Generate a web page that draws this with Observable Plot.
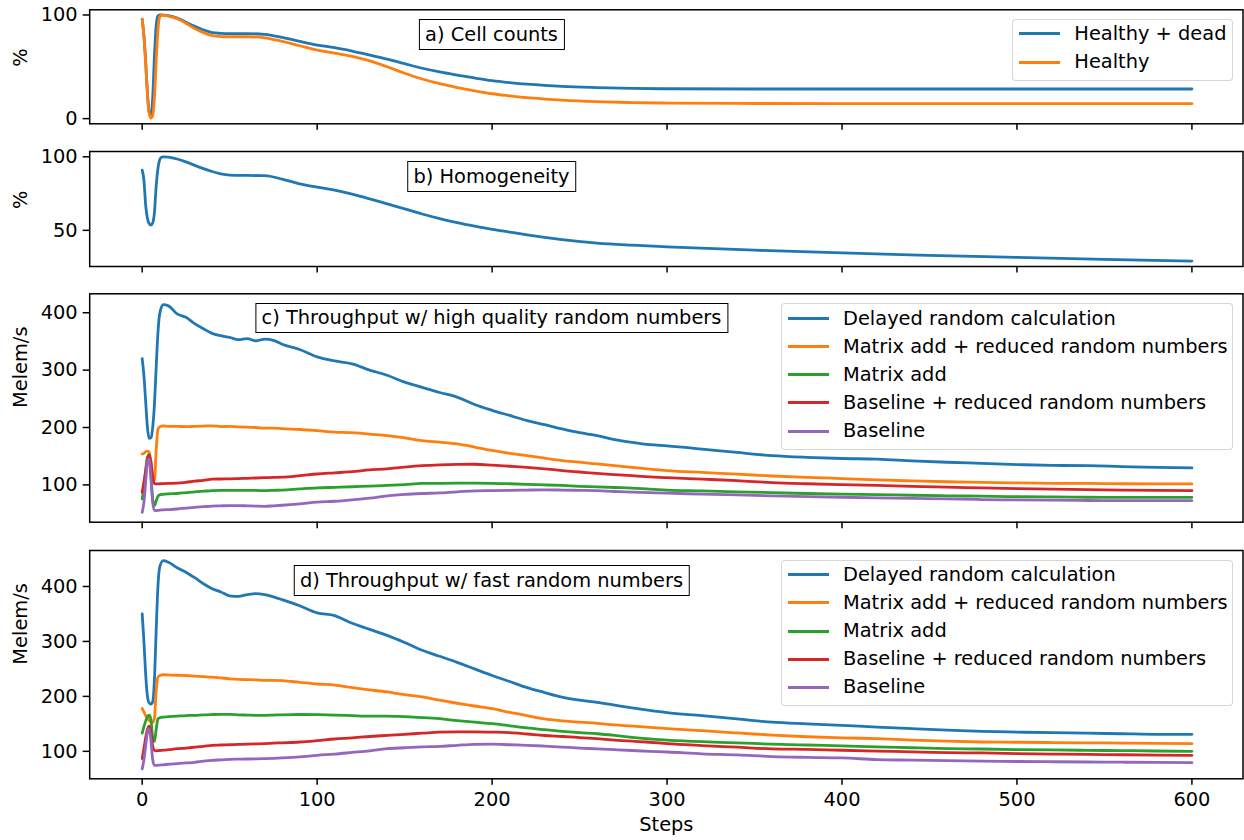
<!DOCTYPE html>
<html>
<head>
<meta charset="utf-8">
<script src="https://cdn.jsdelivr.net/npm/d3@7"></script>
<script src="https://cdn.jsdelivr.net/npm/@observablehq/plot@0.6"></script>
<style>
  body { margin: 0; background: #fff; }
  #fig { position: relative; width: 1244px; height: 840px; font-family: "DejaVu Sans", sans-serif; font-size: 19.4px; color: #000; overflow: hidden; }
  #fig svg { position: absolute; left: 0; }
  .title { position: absolute; border: 1.4px solid #000; background: #fff; padding: 4.8px 5.7px; line-height: 19px; white-space: nowrap; transform: translateX(-50%); }
  .legend { position: absolute; border: 1.4px solid rgba(204,204,204,0.8); border-radius: 4px; background: rgba(255,255,255,0.8); box-sizing: border-box; }
  .legend .sw { position: absolute; left: 5.5px; width: 41px; height: 3px; }
  .legend .lb { position: absolute; left: 61px; line-height: 22px; white-space: nowrap; }
</style>
</head>
<body>
<div id="fig"></div>
<script>
// ---------- data ----------
const xTicks = [0, 100, 200, 300, 400, 500, 600];

// panels a & b: sample steps
const stepsAB = [0,1,2,3,4,5,6,7,8,9,10,11,12,
  15,20,25,30,35,40,45,50,
  60,70,80,90,100,110,120,130,140,150,160,170,180,190,200,210,220,230,240,
  260,280,300,
  350,400,450,500,550,600];

const healthyDead = [96,80,55,25,6,3.5,20,60,90,99,100,100,99.8,
  99.3,97,93,89,85.5,83,82.3,82,
  82,81.3,78.3,74.5,71,68.5,65.2,61.4,57.4,53,48.6,45,42,39.2,36.7,34.8,33.2,32,31.1,
  30,29.2,28.8,
  28.6,28.6,28.6,28.6,28.6,28.6];

const healthy = [96,79,53,23,5,0.5,3,20,55,85,98,100,99.8,
  99,96.5,92,87,83,80,79.2,79,
  79,78,74.5,70.3,66.2,63.3,60,55.7,50,43.8,38.2,33.7,30,26.8,24,22,20.2,18.9,17.8,
  16.3,15.5,15,
  14.6,14.4,14.4,14.4,14.4,14.4];

const homogeneity = [90.9,84,67,58,54.5,53.6,55,62,80,92,98,99.7,100,
  99.8,98.5,96.5,94.2,92,90,88.4,87.6,
  87.3,87.2,84.8,81.6,79.3,77.3,74.6,71.4,68,64.6,61.1,58,55.3,52.9,50.7,48.8,46.9,45.2,43.7,
  41.3,39.9,38.8,
  36.5,34.6,33,31.6,30.3,29.1];

// panels c & d: sample steps
const stepsCD = [0,1,2,3,4,5,6,7,8,9,10,
  12,15,
  20,25,30,35,40,45,50,55,60,65,70,75,80,
  90,100,110,120,130,140,150,160,170,180,190,200,210,220,230,240,250,260,270,280,290,300,
  320,340,360,380,400,420,440,460,480,500,520,540,560,580,600];

const seriesNames = ["Delayed random calculation", "Matrix add + reduced random numbers", "Matrix add", "Baseline + reduced random numbers", "Baseline"];

// c) high quality random numbers
const cDelayed = [320,290,245,200,181,182,200,240,305,365,398,
  414,412,
  398,392,381,372,364,360,357,353,355,351,354,352,345,
  336,323,316,311,300,291,279,270,261,253,240,230,221,212,205,197.5,191,186,179,174,170,168,
  162.5,156.5,151,148,146,145,142,139.5,137.5,135.5,134,133.5,132,130.5,129.6];
const cMatrixReduced = [154,155,158,159,157,140,110,108,160,197,201,
  203,202,
  202,201.5,202,202.5,203,201.5,202,201,200.5,200,199,199,198,
  196.5,194.5,192,191,188.5,186,182,177,174.5,171.5,166,160,155,151,146.5,142.4,139.5,136.5,133.5,130.5,127.5,125,
  121.8,118.8,115.5,113,111,108.8,107,105.5,104.5,103.5,102.8,102.5,102,101.8,101.7];
const cMatrix = [75.6,95,125,148,153,120,75,64,72,80,82.5,
  83.5,84.3,
  85,86.5,88,89,90,90.5,90.5,90.5,90.5,90.3,90,90.5,91,
  93,94.8,95.8,96.8,98,99,100.5,102.5,102.8,103,103,102.8,102,101,100,99,97.5,96.5,95.5,94.5,92.5,91,
  89.5,88,86.5,85,84,83,82,81,80.3,79.5,79,78.5,78.4,78.4,78.4];
const cBaselineReduced = [87,105,125,145,151,140,115,102,101.7,101.8,102,
  102.2,102.5,
  103,104.5,106.5,108,110,110.3,110.5,111,111.5,112,112.5,113,113.5,
  116,119,121,123,126,128,131,133.5,135,135.8,136,134.5,132.5,130.5,128,125,122.5,120,118,116,114,112.5,
  110,107.5,104,102,100.5,99,97.5,96,94.8,93.5,92.5,91.8,91,90.5,90];
const cBaseline = [52,70,105,140,145,110,70,56,55.2,55.5,56,
  56.5,57,
  58,59.5,61,62,63,63.5,64,64,63.5,63,62.7,63.5,64.5,
  67,70,71.5,74,77,81,83.5,85,86,88,89.5,90,90.5,91,91.3,91,90.5,90,88.5,87.5,86.5,85.5,
  84,82.5,81,79.5,78.5,77.5,76.5,75.5,74.5,73.8,73.3,72.8,72.6,72.6,72.6];

// d) fast random numbers
const dDelayed = [350,300,240,200,188,186,190,230,320,400,435,
  447,444,
  434,426,416,405,396,390,383,382,385,387,385,381,376,
  365,352,347,333,322,311,298,284,273,262,250,238,227,216,207,198.5,193,189,184,179,174.5,170.5,
  165,159,153,150,147.3,144,141.2,138.5,136.4,135,134,133,132,131,130.9];
const dMatrixReduced = [178,172,165,160,156,154,153,160,210,235,238,
  239.4,239,
  238.5,238,237,236,235,233.5,232,231,230.5,230,229,229,228.5,
  225.5,222.5,220.5,216,212,208,203,199,193,187.5,182.5,177.5,171,165,159,155.5,153,151,148,146,143.5,141.5,
  137.5,133.5,129.5,126.5,124.5,123,120.5,118.5,117,116.5,116,115.5,115,114.5,114];
const dMatrix = [133,145,155,163,166,158,125,118,140,159,161,
  162.4,163,
  164,165,165.5,166.5,167,167.3,167.3,166.5,166,165.5,165.5,166,166.5,
  167,166.7,166,165,164,164.2,163,161.5,159.4,156,153,150.3,146.5,142.5,139.4,136.5,134,132,129,125.5,122.5,120.5,
  117.5,115.5,113,111.5,110,108,106.5,105,104.2,103.2,102.5,101.8,101.3,100.6,100];
const dBaselineReduced = [86.7,105,125,140,146,135,110,101.8,101,101.2,101.5,
  102,103,
  104.8,106,107.5,109,111,111.5,112,112.5,113,113.5,114,114.8,115.5,
  117,119.5,122.4,124.5,127,129,131,133,135,135.5,135.5,135,134,131.5,128.8,127,125,123,120.5,118.5,116.5,114,
  110.5,107.5,104.5,103.5,102,100.5,99,97.5,97,96,95,94.5,93.8,93.2,92.7];
const dBaseline = [68,85,110,135,141,120,85,74.5,74.5,74.7,75,
  75.5,76.5,
  77.6,78.8,80,82,83.6,84.5,85.5,85.8,86,86.3,86.7,87.3,88,
  89.8,92.7,95,98,101,104.8,106.5,108,109,111,112.7,113,112,111,109.5,107.8,106,104.5,103,101.5,100,98.8,
  95.5,93.5,90.5,89,88,85,84,83,82,81.5,81,80.6,80.2,79.8,79.4];

const yTicksA = [0, 100];
const yTicksB = [50, 100];
const yTicksCD = [100, 200, 300, 400];

const palette = ["#1f77b4", "#ff7f0e", "#2ca02c", "#d62728", "#9467bd"];

// ---------- helpers ----------
function zip(steps, values, name) {
  const n = Math.min(steps.length, values.length);
  const out = [];
  for (let i = 0; i < n; i++) out.push({step: steps[i], value: values[i], series: name});
  return out;
}

const fig = document.getElementById("fig");
const X_DOMAIN = [-30, 629.2];
const FS = 19.4;

function panel(opts) {
  const marks = [];
  opts.series.forEach((s, i) => {
    marks.push(Plot.line(s.data, {x: "step", y: "value", stroke: palette[i], strokeWidth: 2.8, curve: "monotone-x"}));
  });
  marks.push(Plot.frame({stroke: "black", strokeWidth: 1.5}));
  marks.push(Plot.axisY({ticks: opts.yTicks, tickSize: 6.5, tickPadding: 5.5, strokeWidth: 1.5, label: null, fontSize: FS}));
  marks.push(Plot.axisX({ticks: xTicks, tickSize: 6.5, tickPadding: 7, strokeWidth: 1.5, label: null, fontSize: FS,
    tickFormat: opts.showX ? (d => String(d)) : (() => "")}));
  marks.push(Plot.text([opts.ylabel], {frameAnchor: "left", dx: -68.7, rotate: -90, fontSize: FS, fill: "black"}));
  if (opts.xlabel) marks.push(Plot.text([opts.xlabel], {frameAnchor: "bottom", dy: 52, fontSize: FS, fill: "black"}));
  const svg = Plot.plot({
    width: 1244,
    height: opts.height,
    marginLeft: 89.2,
    marginRight: 1.5,
    marginTop: opts.mTop,
    marginBottom: opts.mBottom,
    x: {domain: X_DOMAIN},
    y: {domain: opts.yDomain},
    style: {fontFamily: "DejaVu Sans", fontSize: FS + "px", background: "transparent", color: "black", overflow: "visible"},
    marks
  });
  svg.style.top = opts.top + "px";
  fig.appendChild(svg);
}

function addTitle(text, cx, top) {
  const d = document.createElement("div");
  d.className = "title";
  d.textContent = text;
  d.style.left = cx + "px";
  d.style.top = top + "px";
  fig.appendChild(d);
}

function addLegend(names, left, top, width, height, firstRow) {
  const box = document.createElement("div");
  box.className = "legend";
  Object.assign(box.style, {left: left + "px", top: top + "px", width: width + "px", height: height + "px"});
  names.forEach((name, i) => {
    const cy = firstRow + i * 28.2 - 1.4;
    const sw = document.createElement("div");
    sw.className = "sw";
    sw.style.background = palette[i];
    sw.style.top = Math.round(cy - 1.5) + "px";
    box.appendChild(sw);
    const lb = document.createElement("div");
    lb.className = "lb";
    lb.textContent = name;
    lb.style.top = (cy - 11) + "px";
    box.appendChild(lb);
  });
  fig.appendChild(box);
}

// ---------- panels ----------
panel({top: 0, height: 140, mTop: 9.3, mBottom: 16.7, yDomain: [-5, 105], yTicks: yTicksA, ylabel: "%",
  series: [{data: zip(stepsAB, healthyDead, "Healthy + dead")}, {data: zip(stepsAB, healthy, "Healthy")}]});
panel({top: 140, height: 145, mTop: 11, mBottom: 19, yDomain: [25.4, 103.6], yTicks: yTicksB, ylabel: "%",
  series: [{data: zip(stepsAB, homogeneity, "Homogeneity")}]});
const cSeries = [cDelayed, cMatrixReduced, cMatrix, cBaselineReduced, cBaseline];
panel({top: 285, height: 255, mTop: 8.3, mBottom: 18.3, yDomain: [35, 433], yTicks: yTicksCD, ylabel: "Melem/s",
  series: cSeries.map((v, i) => ({data: zip(stepsCD, v, seriesNames[i])}))});
const dSeries = [dDelayed, dMatrixReduced, dMatrix, dBaselineReduced, dBaseline];
panel({top: 540, height: 300, mTop: 10, mBottom: 61.7, yDomain: [50, 465.5], yTicks: yTicksCD, ylabel: "Melem/s",
  series: dSeries.map((v, i) => ({data: zip(stepsCD, v, seriesNames[i])})), showX: true, xlabel: "Steps"});

// ---------- titles & legends ----------
addTitle("a) Cell counts", 491.5, 19.3);
addTitle("b) Homogeneity", 491.5, 161);
addTitle("c) Throughput w/ high quality random numbers", 491.5, 302.7);
addTitle("d) Throughput w/ fast random numbers", 491.5, 565);

addLegend(["Healthy + dead", "Healthy"], 1012.3, 19, 220.4, 62, 15.3);
addLegend(seriesNames, 781, 303.3, 451.7, 146.7, 15.7);
addLegend(seriesNames, 781, 560, 452, 146, 15);
</script>
</body>
</html>
